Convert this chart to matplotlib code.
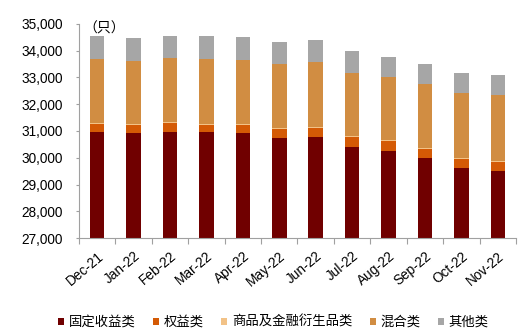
import matplotlib
matplotlib.use("Agg")
import matplotlib.pyplot as plt
import numpy as np
from matplotlib.patches import Patch

plt.rcParams['font.family'] = ['Liberation Sans', 'Noto Sans CJK SC', 'DejaVu Sans']

months = ["Dec-21", "Jan-22", "Feb-22", "Mar-22", "Apr-22", "May-22",
          "Jun-22", "Jul-22", "Aug-22", "Sep-22", "Oct-22", "Nov-22"]
fixed_income = [30976, 30914, 30976, 30963, 30914, 30750, 30788, 30400, 30237, 29979, 29617, 29516]
equity = [300, 300, 320, 270, 300, 320, 330, 360, 370, 340, 350, 330]
commodity = [30, 40, 30, 40, 40, 30, 30, 40, 40, 40, 40, 40]
mixed = [2397, 2374, 2390, 2430, 2411, 2416, 2419, 2381, 2385, 2398, 2402, 2449]
other = [847, 862, 834, 847, 837, 824, 835, 822, 723, 748, 748, 747]

series = [fixed_income, equity, commodity, mixed, other]
names = ["固定收益类", "权益类", "商品及金融衍生品类", "混合类", "其他类"]
colors = ["#700000", "#D45A05", "#F2C287", "#D18D42", "#A6A6A6"]

fig = plt.figure(figsize=(5.26, 3.32), dpi=100)
ax = fig.add_axes([0.150, 0.283, 0.831, 0.645])

x = np.arange(len(months))
bottom = np.zeros(len(months))
for vals, c, n in zip(series, colors, names):
    v = np.array(vals, dtype=float)
    ax.bar(x, v, 0.4, bottom=bottom, color=c, label=n, linewidth=0)
    bottom += v

ax.set_ylim(27000, 35000)
ax.set_xlim(-0.5, len(months) - 0.5)
ax.set_yticks(np.arange(27000, 35001, 1000))
ax.set_yticklabels([f"{v:,}" for v in range(27000, 35001, 1000)], fontsize=9.8, color="#000000")

ax.set_xticks(np.arange(-0.5, len(months), 1.0))
ax.set_xticklabels([])
ax.set_xticks(x, minor=True)
ax.set_xticklabels(months, minor=True, rotation=40, ha='right', rotation_mode='anchor', fontsize=9.8)
ax.tick_params(axis='x', which='major', length=4, color="#A0A0A0", direction='out')
ax.tick_params(axis='x', which='minor', length=0, pad=8)
ax.tick_params(axis='y', length=2, color="#A0A0A0", direction='out', pad=9.5)

for s in ['top', 'right']:
    ax.spines[s].set_visible(False)
for s in ['left', 'bottom']:
    ax.spines[s].set_color("#A0A0A0")
    ax.spines[s].set_linewidth(0.8)

ax.text(0.2, 34820, "（只）", fontsize=10, family=['Noto Sans CJK SC', 'DejaVu Sans'],
        ha='center', va='center')

handles = [Patch(facecolor=c, edgecolor='none') for c in colors]
fig.legend(handles, names, loc='center', bbox_to_anchor=(0.52, 0.03), ncol=5,
           frameon=False, handlelength=0.45, handleheight=0.45,
           handletextpad=0.35, columnspacing=1.3, borderpad=0.1,
           prop={'family': ['Noto Sans CJK SC', 'DejaVu Sans'], 'size': 9.6})

fig.savefig("out.png", dpi=100)
